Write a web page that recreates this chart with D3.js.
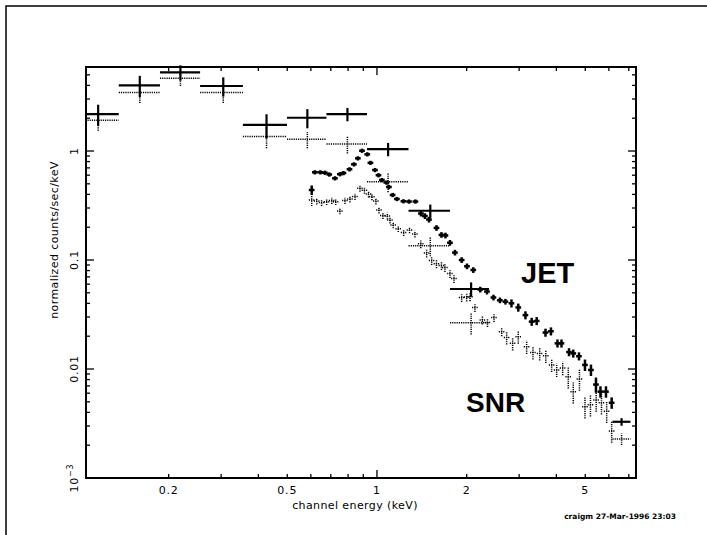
<!DOCTYPE html>
<html>
<head>
<meta charset="utf-8">
<script src="https://cdn.jsdelivr.net/npm/d3@7"></script>
<style>
  body { margin: 0; background: #fff; }
  svg text { font-family: "DejaVu Sans", sans-serif; fill: #000; }
</style>
</head>
<body>
<svg id="chart" width="707" height="535"></svg>
<script>
// wide low-energy bins (keV edges), both sources
var wideLo  = [0.105, 0.136, 0.187, 0.255, 0.355, 0.499, 0.677, 0.926, 1.276, 1.758];
var wideHi  = [0.136, 0.187, 0.255, 0.355, 0.499, 0.677, 0.926, 1.276, 1.758, 2.376];
var wideE   = [0.116, 0.160, 0.219, 0.305, 0.426, 0.584, 0.796, 1.09, 1.51, 2.07];
var wideJet = [2.18, 4.01, 5.27, 3.95, 1.74, 2.02, 2.18, 1.04, 0.283, 0.0542];
var wideJetErr = [0.22, 0.22, 0.16, 0.20, 0.25, 0.20, 0.14, 0.14, 0.14, 0.15];
var wideSnr = [1.92, 3.45, 4.64, 3.45, 1.36, 1.28, 1.16, 0.523, 0.135, 0.0266];
var wideSnrErr = [0.20, 0.20, 0.15, 0.20, 0.22, 0.17, 0.18, 0.20, 0.20, 0.22];

// last wide high-energy bin
var tailLo = [6.17], tailHi = [7.09], tailE = [6.62];
var tailJet = [0.00328], tailSnr = [0.00228];

// dense channels, JET
var jetE = [0.604, 0.619, 0.646, 0.669, 0.692, 0.723, 0.751, 0.772, 0.809, 0.837,
            0.863, 0.891, 0.928, 0.951, 0.985, 1.012, 1.039, 1.076, 1.097, 1.129,
            1.167, 1.227, 1.281, 1.346, 1.405, 1.449, 1.495, 1.584, 1.646, 1.698,
            1.758, 1.827, 1.924, 2.005, 2.105, 2.222, 2.340, 2.460, 2.586, 2.699,
            2.827, 2.980, 3.150, 3.305, 3.436, 3.677, 3.836, 4.034, 4.161, 4.410,
            4.558, 4.763, 4.989, 5.225, 5.431, 5.623, 5.868, 6.132];
var jetF = [0.439, 0.638, 0.638, 0.632, 0.609, 0.562, 0.613, 0.628, 0.680, 0.755,
            0.857, 1.006, 0.933, 0.779, 0.669, 0.600, 0.542, 0.514, 0.468, 0.395,
            0.363, 0.346, 0.344, 0.344, 0.267, 0.253, 0.235, 0.197, 0.170, 0.168,
            0.144, 0.117, 0.100, 0.0876, 0.0810, 0.0536, 0.0514, 0.0453, 0.0427, 0.0415,
            0.0401, 0.0367, 0.0312, 0.0272, 0.0276, 0.0216, 0.0222, 0.0172, 0.0172, 0.0143,
            0.0139, 0.0131, 0.0109, 0.0098, 0.0072, 0.0062, 0.0062, 0.0049];
var jetErr = [0.10, 0.045, 0.045, 0.045, 0.045, 0.045, 0.045, 0.045, 0.045, 0.045,
              0.045, 0.045, 0.045, 0.045, 0.045, 0.045, 0.045, 0.045, 0.045, 0.045,
              0.045, 0.045, 0.045, 0.045, 0.06, 0.06, 0.06, 0.06, 0.06, 0.06,
              0.06, 0.06, 0.06, 0.06, 0.06, 0.06, 0.06, 0.06, 0.06, 0.06,
              0.085, 0.085, 0.085, 0.085, 0.085, 0.085, 0.085, 0.085, 0.085, 0.085,
              0.085, 0.085, 0.12, 0.12, 0.16, 0.12, 0.12, 0.12];

// dense channels, SNR
var snrE = [0.604, 0.628, 0.652, 0.678, 0.705, 0.727, 0.751, 0.781, 0.812, 0.844,
            0.877, 0.908, 0.937, 0.962, 0.992, 1.016, 1.047, 1.084, 1.106, 1.134,
            1.179, 1.229, 1.286, 1.341, 1.403, 1.468, 1.526, 1.584, 1.646, 1.691,
            1.758, 1.813, 1.924, 2.000, 2.052, 2.132, 2.259, 2.349, 2.470, 2.621,
            2.724, 2.853, 2.980, 3.179, 3.338, 3.516, 3.686, 3.857, 4.009, 4.200,
            4.385, 4.558, 4.781, 4.989, 5.205, 5.440, 5.668, 5.900, 6.132];
var snrF = [0.355, 0.348, 0.337, 0.343, 0.351, 0.343, 0.282, 0.351, 0.363, 0.382,
            0.455, 0.436, 0.403, 0.381, 0.348, 0.288, 0.256, 0.253, 0.233, 0.210,
            0.194, 0.179, 0.189, 0.173, 0.141, 0.116, 0.0989, 0.0925, 0.0890, 0.0853,
            0.0752, 0.0677, 0.0453, 0.0458, 0.0461, 0.0367, 0.0282, 0.0267, 0.0297, 0.0220,
            0.0195, 0.0172, 0.0198, 0.0160, 0.0142, 0.0139, 0.0132, 0.0109, 0.0098, 0.0102,
            0.0085, 0.0062, 0.0081, 0.0045, 0.0047, 0.0052, 0.0049, 0.0041, 0.0027];
var snrErr = [0.12, 0.07, 0.07, 0.07, 0.07, 0.07, 0.07, 0.07, 0.07, 0.07,
              0.07, 0.07, 0.07, 0.07, 0.07, 0.07, 0.07, 0.07, 0.07, 0.07,
              0.07, 0.07, 0.07, 0.07, 0.09, 0.09, 0.09, 0.09, 0.09, 0.09,
              0.09, 0.09, 0.09, 0.09, 0.09, 0.09, 0.09, 0.09, 0.09, 0.09,
              0.14, 0.14, 0.14, 0.14, 0.14, 0.14, 0.14, 0.14, 0.14, 0.14,
              0.22, 0.22, 0.22, 0.22, 0.22, 0.22, 0.22, 0.22, 0.22];
var chanHalf = 0.022;   // half channel width, fraction of energy

var xLabels = [0.2, 0.5, 1, 2, 5];
var yMajors = [1e-3, 0.01, 0.1, 1];
var yLabels = ["10", "0.01", "0.1", "1"];

var W = 707, H = 535;
var L = 86, R = 636, T = 67, B = 478;

var svg = d3.select("#chart");
svg.append("rect").attr("width", W).attr("height", H).attr("fill", "#fff");

// page border (top and left only, as scanned)
svg.append("path").attr("d", "M6,535 L6,6 L707,6")
  .attr("fill", "none").attr("stroke", "#000").attr("stroke-width", 1.5);

var x = d3.scaleLog().domain([0.1056, 7.40]).range([L, R]);
var y = d3.scaleLog().domain([1e-3, 5.90]).range([B, T]);

// frame
svg.append("rect").attr("x", L).attr("y", T).attr("width", R - L).attr("height", B - T)
  .attr("fill", "none").attr("stroke", "#000").attr("stroke-width", 2);

// ticks
var xTicks = [];
[0.1, 1].forEach(function (d) {
  for (var k = 1; k <= 9; k++) {
    var v = d * k;
    if (v > 0.1056 && v < 7.40) xTicks.push(v);
  }
});
var yTicks = [];
[1e-3, 0.01, 0.1, 1].forEach(function (d) {
  for (var k = 1; k <= 9; k++) {
    var v = d * k;
    if (v >= 1e-3 && v < 5.90) yTicks.push(v);
  }
});
function isDecade(v) { return Math.abs(Math.log10(v) - Math.round(Math.log10(v))) < 1e-6; }

var tk = svg.append("g").attr("stroke", "#000").attr("stroke-width", 1.3);
xTicks.forEach(function (v) {
  var len = isDecade(v) ? 8 : 4;
  tk.append("line").attr("x1", x(v)).attr("x2", x(v)).attr("y1", B).attr("y2", B - len);
  tk.append("line").attr("x1", x(v)).attr("x2", x(v)).attr("y1", T).attr("y2", T + len);
});
yTicks.forEach(function (v) {
  var len = isDecade(v) ? 8 : 4;
  tk.append("line").attr("x1", L).attr("x2", L + len).attr("y1", y(v)).attr("y2", y(v));
  tk.append("line").attr("x1", R).attr("x2", R - len).attr("y1", y(v)).attr("y2", y(v));
});

// tick labels
svg.selectAll(".xl").data(xLabels).enter().append("text")
  .attr("x", function (d) { return x(d); })
  .attr("y", 494)
  .attr("text-anchor", "middle")
  .attr("font-size", 11).attr("letter-spacing", 0.8)
  .text(function (d) { return d; });

yMajors.forEach(function (v, i) {
  var t = svg.append("text")
    .attr("transform", "translate(78," + y(v) + ") rotate(-90)")
    .attr("text-anchor", "middle")
    .attr("font-size", 11).attr("letter-spacing", 0.8);
  t.append("tspan").text(yLabels[i]);
  if (v === 1e-3) {
    t.append("tspan").attr("dy", -5).attr("font-size", 8).text("\u22123");
  }
});

// axis titles
svg.append("text").attr("x", 355).attr("y", 509).attr("text-anchor", "middle")
  .attr("font-size", 11).attr("letter-spacing", 0.4)
  .text("channel energy (keV)");
svg.append("text").attr("transform", "translate(58,240) rotate(-90)")
  .attr("text-anchor", "middle").attr("font-size", 11).attr("letter-spacing", 0.4)
  .text("normalized counts/sec/keV");

// error-bar crosses
function crosses(g, xs, lo, hi, ys, err) {
  var sel = g.selectAll("g.pt").data(xs.map(function (d, i) { return i; }))
    .enter().append("g").attr("class", "pt");
  sel.append("line")
    .attr("x1", function (i) { return x(lo(i)); })
    .attr("x2", function (i) { return x(hi(i)); })
    .attr("y1", function (i) { return y(ys[i]); })
    .attr("y2", function (i) { return y(ys[i]); });
  sel.append("line")
    .attr("x1", function (i) { return x(xs[i]); })
    .attr("x2", function (i) { return x(xs[i]); })
    .attr("y1", function (i) { return y(ys[i] * (1 - err(i))); })
    .attr("y2", function (i) { return y(ys[i] * (1 + err(i))); });
}

var snrG = svg.append("g").attr("stroke", "#000").attr("stroke-width", 1.5)
  .attr("stroke-dasharray", "1.2,1").attr("fill", "none");
var jetG = svg.append("g").attr("stroke", "#000").attr("stroke-width", 2.2).attr("fill", "none");

crosses(snrG.append("g"), wideE, function (i) { return wideLo[i]; }, function (i) { return wideHi[i]; },
  wideSnr, function (i) { return wideSnrErr[i]; });
crosses(snrG.append("g"), snrE, function (i) { return snrE[i] * (1 - chanHalf); },
  function (i) { return snrE[i] * (1 + chanHalf); }, snrF, function (i) { return snrErr[i]; });
crosses(snrG.append("g"), tailE, function (i) { return tailLo[i]; }, function (i) { return tailHi[i]; },
  tailSnr, function (i) { return 0.12; });

crosses(jetG.append("g"), wideE, function (i) { return wideLo[i]; }, function (i) { return wideHi[i]; },
  wideJet, function (i) { return wideJetErr[i]; });
crosses(jetG.append("g").attr("stroke-width", 2.5), jetE, function (i) { return jetE[i] * (1 - chanHalf); },
  function (i) { return jetE[i] * (1 + chanHalf); }, jetF, function (i) { return jetErr[i]; });
crosses(jetG.append("g"), tailE, function (i) { return tailLo[i]; }, function (i) { return tailHi[i]; },
  tailJet, function (i) { return 0.08; });

// source labels
svg.append("text").attr("x", 521).attr("y", 283)
  .style("font-family", "'Liberation Sans', Arial, sans-serif")
  .attr("font-weight", "bold").attr("font-size", 29).text("JET");
svg.append("text").attr("x", 466).attr("y", 412)
  .style("font-family", "'Liberation Sans', Arial, sans-serif")
  .attr("font-weight", "bold").attr("font-size", 28).text("SNR");

// stamp
svg.append("text").attr("x", 676).attr("y", 519).attr("text-anchor", "end")
  .attr("font-weight", "bold").attr("font-size", 7.5)
  .text("craigm 27-Mar-1996 23:03");
</script>
</body>
</html>
